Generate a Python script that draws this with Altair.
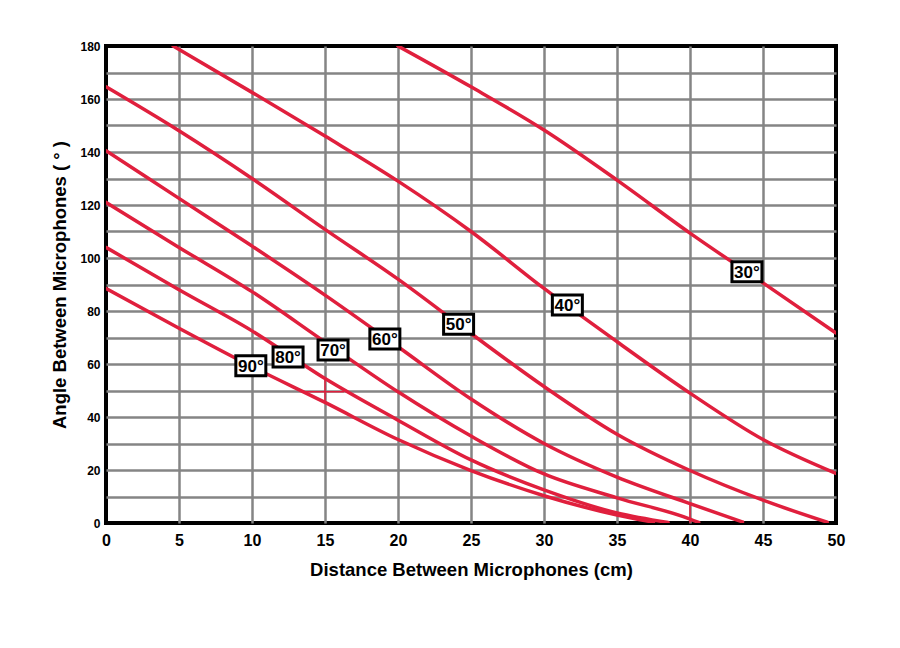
import altair as alt
import pandas as pd

# ---------------- data ----------------
x_ticks = [0, 5, 10, 15, 20, 25, 30, 35, 40, 45, 50]
y_grid = [0, 10, 20, 30, 40, 50, 60, 70, 80, 90, 100, 110, 120, 130, 140, 150, 160, 170, 180]

curve_names = ["30°", "40°", "50°", "60°", "70°", "80°", "90°"]

c30_x = [20.0, 25, 30, 35, 40, 45, 50]
c30_y = [180, 164.6, 148.3, 129.4, 109.4, 90.6, 71.7]

c40_x = [4.6, 10, 15, 20, 25, 30, 35, 40, 45, 50]
c40_y = [180, 162.5, 146, 129, 110, 88.5, 68.4, 49, 31.5, 18.7]

c50_x = [0, 5, 10, 15, 20, 25, 30, 35, 40, 45, 49.4]
c50_y = [164.6, 148, 130, 110.8, 92, 71.5, 51.5, 33.5, 19.8, 8.6, 0.3]

c60_x = [0, 5, 10, 15, 20, 25, 30, 35, 40, 43.6]
c60_y = [140.5, 122.5, 104.5, 86, 66.5, 46.8, 30, 17.3, 7.3, 0.4]

c70_x = [0, 5, 10, 15, 20, 25, 30, 35, 40, 40.6]
c70_y = [121, 104, 87.3, 68.3, 49.5, 32.8, 18.5, 9.5, 1.5, 0.2]

c80_x = [0, 5, 10, 15, 20, 25, 30, 35, 38.5]
c80_y = [104, 88, 72.5, 54.5, 38.8, 23.8, 12.5, 3.8, 0.2]

c90_x = [0, 5, 10, 15, 20, 25, 30, 35, 37.5]
c90_y = [88.5, 73.5, 59, 45.5, 31.5, 19.8, 10.3, 3, 0.3]

label_text = ["30°", "40°", "50°", "60°", "70°", "80°", "90°"]
label_x = [43.9, 31.6, 24.15, 19.1, 15.55, 12.47, 9.92]
label_y = [94.8, 82.3, 75.0, 69.4, 65.3, 62.6, 59.3]

# small stray red strokes visible in the original drawing
stray_x = [13.4, 15.0, 40.0]
stray_x2 = [16.3, 15.0, 40.0]
stray_y = [49.5, 45.2, 0.0]
stray_y2 = [49.5, 54.0, 6.8]

# ---------------- tables ----------------
rows = []
for name, xs, ys in zip(curve_names,
                        [c30_x, c40_x, c50_x, c60_x, c70_x, c80_x, c90_x],
                        [c30_y, c40_y, c50_y, c60_y, c70_y, c80_y, c90_y]):
    for i, (a, b) in enumerate(zip(xs, ys)):
        rows.append({"curve": name, "x": a, "y": b, "order": i})
curves = pd.DataFrame(rows)

labels = pd.DataFrame({"text": label_text, "x": label_x, "y": label_y})
strays = pd.DataFrame({"x": stray_x, "x2": stray_x2, "y": stray_y, "y2": stray_y2})

FONT = "Liberation Sans"
RED = "#E01F3D"
GRID = "#858585"

xscale = alt.Scale(domain=[0, 50], nice=False, zero=False)
yscale = alt.Scale(domain=[0, 180], nice=False, zero=False)

x_axis = alt.Axis(
    values=x_ticks,
    title="Distance Between Microphones (cm)",
    grid=True,
    gridColor={"condition": {"test": "datum.value <= 0 || datum.value >= 50", "value": "transparent"}, "value": GRID},
    gridWidth=2.5,
    ticks=False,
    domain=False,
    labelFont=FONT, labelFontSize=16, labelFontWeight="bold", labelColor="black",
    labelPadding=9, labelFlush=False,
    titleFont=FONT, titleFontSize=18.5, titleFontWeight="bold", titleColor="black",
    titlePadding=12,
)
y_axis = alt.Axis(
    values=y_grid,
    labelExpr="datum.value % 20 == 0 ? datum.label : ''",
    title="Angle Between Microphones ( ° )",
    grid=True,
    gridColor={"condition": {"test": "datum.value <= 0 || datum.value >= 180", "value": "transparent"}, "value": GRID},
    gridWidth=2.5,
    ticks=False,
    domain=False,
    labelFont=FONT, labelFontSize=12, labelFontWeight="bold", labelColor="black",
    labelPadding=6, labelFlush=False,
    titleFont=FONT, titleFontSize=18.5, titleFontWeight="bold", titleColor="black",
    titlePadding=10,
)

X = alt.X("x:Q", scale=xscale, axis=x_axis)
Y = alt.Y("y:Q", scale=yscale, axis=y_axis)

lines = alt.Chart(curves).mark_line(
    color=RED, strokeWidth=3.5, interpolate="monotone", clip=True, strokeCap="round"
).encode(x=X, y=Y, detail="curve:N", order="order:Q")

stray = alt.Chart(strays).mark_rule(color=RED, strokeWidth=1.5, clip=True).encode(
    x=X, x2="x2:Q", y=Y, y2="y2:Q"
)

boxes = alt.Chart(labels).mark_point(
    shape="M-1.5,-1L1.5,-1L1.5,1L-1.5,1Z",
    size=400, filled=True, fill="white", stroke="black", strokeWidth=3, opacity=1,
).encode(x=X, y=Y)

texts = alt.Chart(labels).mark_text(
    font=FONT, fontSize=17, fontWeight="bold", color="black",
    align="center", baseline="middle", dy=1,
).encode(x=X, y=Y, text="text:N")

chart = alt.layer(lines, stray, boxes, texts).properties(
    width=730, height=477,
    autosize=alt.AutoSizeParams(type="none"),
    padding={"left": 106, "top": 46, "right": 64, "bottom": 125},
    background="white",
).configure_view(stroke="black", strokeWidth=4)

chart.save("out.html", embed_options={"renderer": "svg", "actions": False})
